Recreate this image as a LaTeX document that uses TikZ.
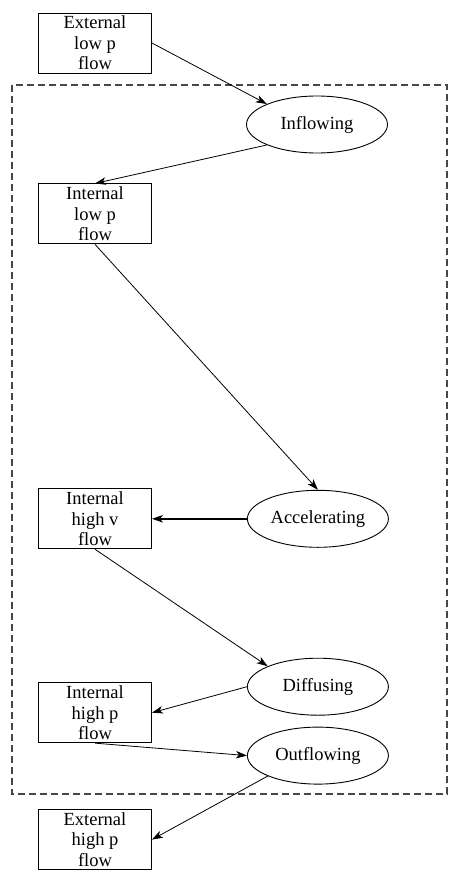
\documentclass[tikz,border=0pt]{standalone}
\usepackage{fontspec}
\setmainfont{Liberation Serif}
\usetikzlibrary{shapes}
\usetikzlibrary{positioning}
\usetikzlibrary{arrows.meta}
\tikzstyle{flowbox} = [rectangle,fill=white,draw=black,line width=0.9pt,inner sep=0pt,
minimum width=113pt, minimum height=60pt, align=center,
font=\fontsize{18.5}{20.5}\selectfont]
\tikzstyle{process} = [ellipse,fill=white,draw=black,line width=0.9pt,inner sep=0pt,
minimum width=141pt, minimum height=57pt, font=\fontsize{18.5}{20.5}\selectfont]
\tikzstyle{frame} = [draw=black!72, line width=1.3pt, dash pattern=on 7pt off 4pt]
\tikzstyle{flow} = [->, line width=0.8pt]
\tikzset{>={Stealth[length=11pt,width=7.5pt,inset=3pt]}}
\newcommand{\edge}[3][]{ %
  % Connect all nodes #2 to all nodes #3.
  \foreach \x in {#2} { %
    \foreach \y in {#3} { %
      \path (\x) edge [flow,#1] (\y) ;%
    } ;
  } ;
}

\begin{document}
\begin{tikzpicture}[x=1pt,y=1pt]
				\useasboundingbox (0,0) rectangle (459,-875);
				\draw[frame] (12,-85) rectangle (447,-794);

				\node[flowbox] (extlow) at (95,-43) {External\\low p\\flow} ; %
				\node[flowbox, below=110pt of extlow] (intlow) {Internal\\low p\\flow} ; %
				\node[flowbox, below=244pt of intlow] (inthighv) {Internal\\high v\\flow} ; %
				\node[flowbox, below=133pt of inthighv] (inthighp) {Internal\\high p\\flow} ; %
				\node[flowbox, below=66pt of inthighp] (exthigh) {External\\high p\\flow} ; %

				\node[process] (inflow) at (317,-124.5) {Inflowing} ; %
				\node[process, right=95pt of inthighv] (accel) {Accelerating} ; %
				\node[process, below=110pt of accel] (diffuse) {Diffusing} ; %
				\node[process, below=11pt of diffuse] (outflow) {Outflowing} ; %

				\edge {extlow.east} {inflow.north west};
				\edge {inflow.south west} {intlow.north};
				\edge {intlow.south} {accel.north};
				\edge[line width=1.6pt] {accel.west} {inthighv.east};
				\edge {inthighv.south} {diffuse.north west};
				\edge {diffuse.west} {inthighp.east};
				\edge {inthighp.south} {outflow.west};
				\edge {outflow.south west} {exthigh.east};
            \end{tikzpicture}
\end{document}
